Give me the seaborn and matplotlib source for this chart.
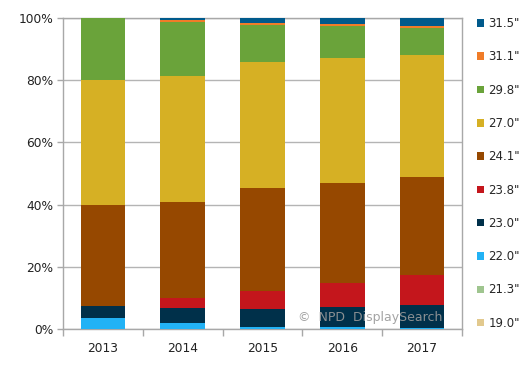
import matplotlib
matplotlib.use("Agg")
import matplotlib.pyplot as plt
from matplotlib.patches import Patch
import seaborn as sns
import numpy as np

years = ["2013", "2014", "2015", "2016", "2017"]
sizes = ['19.0"', '21.3"', '22.0"', '23.0"', '23.8"', '24.1"', '27.0"', '29.8"', '31.1"', '31.5"']
s190 = [0.0, 0.0, 0.0, 0.0, 0.0]
s213 = [0.0, 0.0, 0.0, 0.0, 0.0]
s220 = [3.5, 1.8, 0.6, 0.5, 0.3]
s230 = [4.0, 5.0, 5.8, 6.6, 7.4]
s238 = [0.0, 3.1, 5.9, 7.7, 9.6]
s241 = [32.3, 31.0, 32.9, 32.2, 31.7]
s270 = [40.2, 40.5, 40.8, 40.2, 39.1]
s298 = [20.0, 17.4, 11.7, 10.2, 8.8]
s311 = [0.0, 0.5, 0.6, 0.6, 0.5]
s315 = [0.0, 0.7, 1.7, 2.0, 2.6]
series = [s190, s213, s220, s230, s238, s241, s270, s298, s311, s315]
colors = ["#e2c98e", "#9fc58f", "#22b2f5", "#00304a", "#c4161c",
          "#964800", "#d6b024", "#6aa33a", "#f07c28", "#005a8c"]

sns.set_theme(style="white")
plt.rcParams['font.family'] = ['DejaVu Sans']

fig = plt.figure(figsize=(5.28, 3.74), dpi=100)
ax = fig.add_axes([63/528, 45/374, (462-63)/528, (329-18)/374])

bottom = np.zeros(len(years))
for vals, col in zip(series, colors):
    sns.barplot(x=years, y=vals, bottom=bottom, color=col, width=0.56,
                linewidth=0, saturation=1, ax=ax, zorder=3)
    bottom = bottom + np.array(vals)

ax.set_xlim(-0.5, 4.5)
ax.set_ylim(0, 100)
ax.set_yticks([0, 20, 40, 60, 80, 100])
ax.set_yticklabels(["0%", "20%", "40%", "60%", "80%", "100%"])
ax.set_xlabel("")
ax.set_ylabel("")
ax.yaxis.grid(True, color="#b4b4b4", linewidth=1, zorder=0)
ax.set_axisbelow(True)
for sp in ax.spines.values():
    sp.set_color("#a8a8a8")
    sp.set_linewidth(1)
ax.tick_params(axis="y", which="major", left=True, length=4, width=1,
               color="#a8a8a8", labelsize=8.8, labelcolor="#222222", pad=3)
ax.set_xticks(np.arange(-0.5, 5.0, 1.0), minor=True)
ax.tick_params(axis="x", which="minor", bottom=True, length=5, width=1, color="#a8a8a8")
ax.tick_params(axis="x", which="major", bottom=False, length=0, labelsize=8.8,
               labelcolor="#222222", pad=9)

ax.text(0.952, 0.037, "\u00a9  NPD  DisplaySearch", transform=ax.transAxes,
        ha="right", va="center", fontsize=9, color="#9a9a9a", alpha=0.9, zorder=5)

handles = [Patch(facecolor=c, edgecolor="none") for c in colors][::-1]
labels = sizes[::-1]
leg = fig.legend(handles, labels, loc="upper left", bbox_to_anchor=(477/528, 1 - 17/374),
                 frameon=False, fontsize=8.5, handlelength=0.6, handleheight=0.6,
                 handletextpad=0.35, labelspacing=1.72, borderaxespad=0, borderpad=0)

fig.savefig("out.png", dpi=100)
